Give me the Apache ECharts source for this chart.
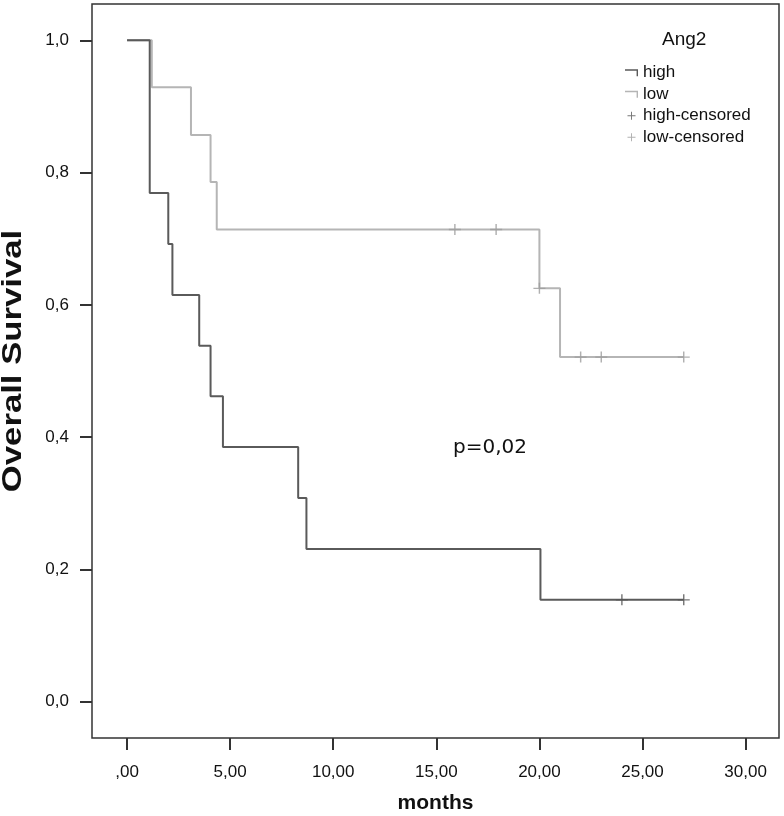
<!DOCTYPE html>
<html><head><meta charset="utf-8">
<script src="https://cdn.jsdelivr.net/npm/echarts@6/dist/echarts.min.js"></script>
<style>html,body{margin:0;padding:0;background:#fff}#c{width:784px;height:816px}</style>
</head><body><div id="c"></div>
<script>
const xTickValues = [0, 5, 10, 15, 20, 25, 30];
const xTickLabels = [',00', '5,00', '10,00', '15,00', '20,00', '25,00', '30,00'];
const yTickValues = [0, 0.2, 0.4, 0.6, 0.8, 1.0];
const yTickLabels = ['0,0', '0,2', '0,4', '0,6', '0,8', '1,0'];

const highTimes = [0, 1.1, 1.1, 1.1, 2.0, 2.2, 3.5, 4.05, 4.65, 8.3, 8.7, 20.05, 27.0];
const highSurv  = [1, 0.923, 0.846, 0.769, 0.692, 0.615, 0.538, 0.462, 0.385, 0.308, 0.231, 0.154, 0.154];
const lowTimes  = [0, 1.2, 3.1, 4.05, 4.35, 20.0, 21.0, 27.0];
const lowSurv   = [1, 0.929, 0.857, 0.786, 0.714, 0.625, 0.521, 0.521];
const highCensTimes = [24.0, 27.0];
const highCensSurv  = [0.154, 0.154];
const lowCensTimes  = [15.9, 17.9, 20.0, 22.0, 23.0, 27.0];
const lowCensSurv   = [0.714, 0.714, 0.625, 0.521, 0.521, 0.521];

const pairs = (xs, ys) => xs.map((x, i) => [x, ys[i]]);
const FONT = 'Liberation Sans, Arial, sans-serif';
const DARK = '#5a5a5a', LIGHT = '#b5b5b5', DARK_C = '#555555', LIGHT_C = '#9c9c9c';
const PLUS = 'path://M0,4.4 H10 V5.6 H0 Z M4.4,0 H5.6 V10 H4.4 Z';
const STEP_ICON = 'path://M0,0 H13 V7 H11.6 V1.4 H0 Z';

const chart = echarts.init(document.getElementById('c'), null, {renderer: 'canvas'});
chart.setOption({
  animation: false,
  backgroundColor: '#fff',
  title: {
    text: 'Ang2', left: 657, top: 25,
    textStyle: {fontFamily: FONT, fontSize: 19, fontWeight: 'normal', color: '#111'}
  },
  legend: {
    orient: 'vertical', left: 620, top: 57, itemGap: 0,
    itemWidth: 13, itemHeight: 8,
    textStyle: {fontFamily: FONT, fontSize: 17, color: '#111', lineHeight: 21.5},
    data: [
      {name: 'high', icon: STEP_ICON},
      {name: 'low', icon: STEP_ICON},
      {name: 'high-censored', icon: PLUS},
      {name: 'low-censored', icon: PLUS}
    ]
  },
  grid: {left: 92, top: 4, right: 5, bottom: 78, containLabel: false, outerBoundsMode: 'none',
         show: true, borderColor: '#333', borderWidth: 1.5, backgroundColor: '#fff'},
  xAxis: {
    type: 'value', min: -1.7, max: 31.62,
    name: 'months', nameLocation: 'middle', nameGap: 55,
    nameTextStyle: {fontFamily: FONT, fontSize: 21, fontWeight: 'bold', color: '#111'},
    axisLine: {show: false, onZero: false},
    axisTick: {show: true, customValues: xTickValues, length: 12, lineStyle: {color: '#333', width: 2}},
    axisLabel: {
      customValues: xTickValues, margin: 26,
      fontFamily: FONT, fontSize: 17, color: '#111',
      formatter: v => xTickLabels[xTickValues.indexOf(v)]
    },
    splitLine: {show: false}
  },
  yAxis: {
    type: 'value', min: -0.055, max: 1.055,
    axisLine: {show: false, onZero: false},
    axisTick: {show: true, customValues: yTickValues, length: 12, lineStyle: {color: '#333', width: 2}},
    axisLabel: {
      customValues: yTickValues, margin: 23,
      fontFamily: FONT, fontSize: 17, color: '#111',
      formatter: v => yTickLabels[yTickValues.map(t => t.toFixed(1)).indexOf(v.toFixed(1))]
    },
    splitLine: {show: false}
  },
  graphic: [
    {
      type: 'text', x: 13, y: 361, rotation: Math.PI / 2, scaleX: 1.24,
      style: {text: 'Overall Survival', font: 'bold 28px ' + FONT, fill: '#111',
              align: 'center', verticalAlign: 'middle'}
    },
    {
      type: 'text', left: 453, top: 438,
      style: {text: 'p=0,02', font: '20px DejaVu Sans, sans-serif', fill: '#111'}
    }
  ],
  series: [
    {
      name: 'high', type: 'line', step: 'end', color: DARK, z: 4,
      showSymbol: false, lineStyle: {color: DARK, width: 2},
      data: pairs(highTimes, highSurv)
    },
    {
      name: 'low', type: 'line', step: 'end', color: LIGHT, z: 3,
      showSymbol: false, lineStyle: {color: LIGHT, width: 2},
      data: pairs(lowTimes, lowSurv)
    },
    {
      name: 'high-censored', type: 'scatter', color: DARK_C, z: 5,
      symbol: PLUS, symbolSize: [12, 11], itemStyle: {color: DARK_C},
      data: pairs(highCensTimes, highCensSurv)
    },
    {
      name: 'low-censored', type: 'scatter', color: LIGHT_C, z: 5,
      symbol: PLUS, symbolSize: [12, 11], itemStyle: {color: LIGHT_C},
      data: pairs(lowCensTimes, lowCensSurv)
    }
  ]
});
</script></body></html>
